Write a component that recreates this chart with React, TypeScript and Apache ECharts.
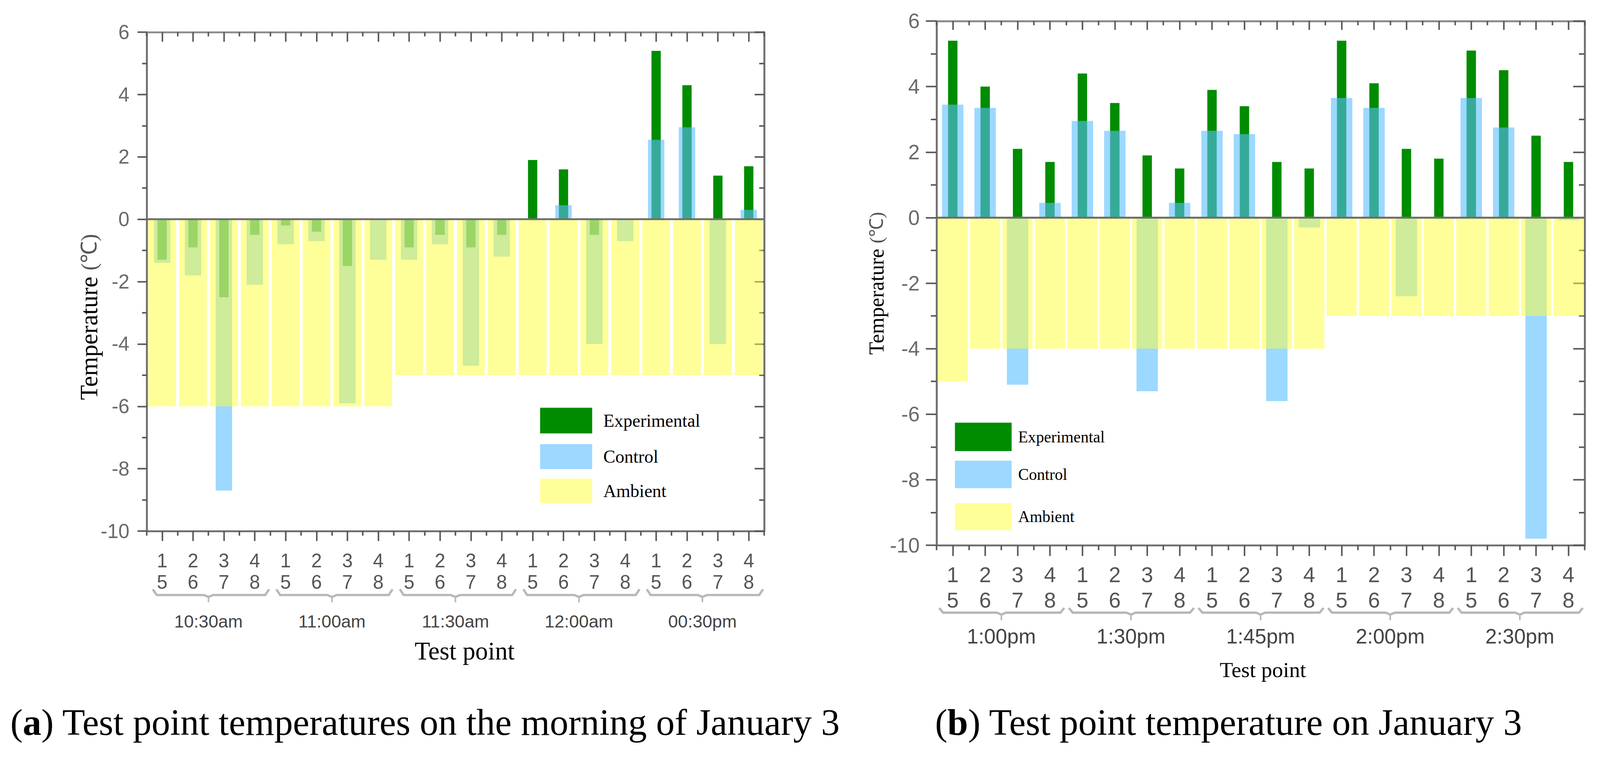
import React, { useEffect, useRef, useState } from 'react';
import * as echarts from 'echarts';

// ---------------- data ----------------
const POINT_LABELS = ['1\n5', '2\n6', '3\n7', '4\n8'];
const TIMES_A = ['10:30am', '11:00am', '11:30am', '12:00am', '00:30pm'];
const TIMES_B = ['1:00pm', '1:30pm', '1:45pm', '2:00pm', '2:30pm'];

const EXPERIMENTAL_A = [-1.3, -0.9, -2.5, -0.5, -0.2, -0.4, -1.5, 0, -0.9, -0.5, -0.9, -0.5, 1.9, 1.6, -0.5, 0, 5.4, 4.3, 1.4, 1.7];
const CONTROL_A = [-1.4, -1.8, -8.7, -2.1, -0.8, -0.7, -5.9, -1.3, -1.3, -0.8, -4.7, -1.2, 0, 0.45, -4.0, -0.7, 2.55, 2.95, -4.0, 0.3];
const AMBIENT_A = [-6, -6, -6, -6, -6, -6, -6, -6, -5, -5, -5, -5, -5, -5, -5, -5, -5, -5, -5, -5];

const EXPERIMENTAL_B = [5.4, 4.0, 2.1, 1.7, 4.4, 3.5, 1.9, 1.5, 3.9, 3.4, 1.7, 1.5, 5.4, 4.1, 2.1, 1.8, 5.1, 4.5, 2.5, 1.7];
const CONTROL_B = [3.45, 3.35, -5.1, 0.45, 2.95, 2.65, -5.3, 0.45, 2.65, 2.55, -5.6, -0.3, 3.65, 3.35, -2.4, 0, 3.65, 2.75, -9.8, -0.08];
const AMBIENT_B = [-5, -4, -4, -4, -4, -4, -4, -4, -4, -4, -4, -4, -3, -3, -3, -3, -3, -3, -3, -3];

const Y_MIN = -10;
const Y_MAX = 6;
const Y_STEP = 2;

const SERIES_NAMES = ['Experimental', 'Control', 'Ambient'];
const Y_TITLE = 'Temperature ';
const Y_UNIT = '(℃)';
const X_TITLE = 'Test point';
const CAPTION_A = ['a', ' Test point temperatures on the morning of January 3'];
const CAPTION_B = ['b', ' Test point temperature on January 3'];

// ---------------- styles / layout ----------------
const PAGE_W = 4177;
const PAGE_H = 1972;
const SANS = "'Liberation Sans Narrow', 'Arial Narrow', 'Liberation Sans', Arial, sans-serif";
const SERIF = "'Liberation Serif', 'Times New Roman', serif";
const COLORS = {
  exp: '#008c00',
  ctrl: 'rgba(90,190,255,0.6)',
  amb: 'rgba(255,255,51,0.5)',
  axis: '#6e6e6e',
  tick: '#585858',
  bracket: '#b8b8b8',
};

const LAYOUT_A = {
  grid: { left: 383, top: 84, width: 1612, height: 1303 },
  axisW: 5,
  longTick: 26, shortTick: 12, topLong: 25, topShort: 11,
  yTick: 24, yMinor: 12, rTick: 25, rMinor: 13,
  catMargin: 49, catFont: 50, catLH: 56,
  timeMargin: 213, timeFont: 46,
  yMargin: 45, yFont: 52,
  expW: '30%', ctrlW: '53%', ambW: '90%',
  brY: 167, brHook: 15, brNotch: 19, brIn0: 16, brIn1: 3, brW: 6,
  legendX: 1410, legendTops: [1065, 1160, 1250], legendHs: [67, 65, 64], legendW: 136,
  legendFont: 47, legendPad: [18, 0, 0, 24],
  yTitle: { x: 232, y: 828, size: 64 },
  xTitle: { x: 1213, y: 1700, size: 66 },
  caption: { x: 27, y: 1887, size: 97 },
};

const LAYOUT_B = {
  grid: { left: 2445, top: 55, width: 1692, height: 1369 },
  axisW: 5,
  longTick: 28, shortTick: 13, topLong: 23, topShort: 11,
  yTick: 28, yMinor: 15, rTick: 30, rMinor: 15,
  catMargin: 44, catFont: 56, catLH: 66,
  timeMargin: 211, timeFont: 54,
  yMargin: 44, yFont: 54,
  expW: '29%', ctrlW: '66%', ambW: '93%',
  brY: 176, brHook: 12, brNotch: 20, brIn0: 7, brIn1: 5, brW: 6,
  legendX: 2493, legendTops: [1104, 1203, 1314], legendHs: [74, 72, 71], legendW: 148,
  legendFont: 42, legendPad: [28, 0, 0, 12],
  yTitle: { x: 2288, y: 740, size: 55 },
  xTitle: { x: 3297, y: 1749, size: 57 },
  caption: { x: 2441, y: 1887, size: 97 },
};

function buildPanel(k: number, L: any, times: string[], exp: number[], ctrl: number[], amb: number[]) {
  const n = POINT_LABELS.length;
  const categories = times.flatMap(() => POINT_LABELS);
  const groups = times.map((_, g) => [g * n, g * n + n - 1]);
  const xo = k * 5;
  const yo = k * 2;
  const lineStyle = { color: COLORS.axis, width: L.axisW };
  const tickStyle = { color: COLORS.tick, width: 4 };

  const xAxis = [
    {
      gridIndex: k, type: 'category', data: categories, position: 'bottom',
      axisLine: { show: true, onZero: false, lineStyle },
      axisTick: { show: true, interval: 0, alignWithLabel: true, length: L.longTick, lineStyle: tickStyle },
      axisLabel: { show: true, interval: 0, margin: L.catMargin, fontSize: L.catFont, lineHeight: L.catLH, color: '#555', fontFamily: SANS },
      splitLine: { show: false },
    },
    {
      gridIndex: k, type: 'category', data: categories, position: 'bottom',
      axisLine: { show: false, onZero: false },
      axisTick: { show: true, interval: 0, alignWithLabel: false, length: L.shortTick, lineStyle: tickStyle },
      axisLabel: { show: false }, splitLine: { show: false },
    },
    {
      gridIndex: k, type: 'category', data: categories, position: 'top',
      axisLine: { show: true, onZero: false, lineStyle: { color: '#8a8a8a', width: L.axisW } },
      axisTick: { show: true, inside: true, interval: 0, alignWithLabel: true, length: L.topLong, lineStyle: tickStyle },
      axisLabel: { show: false }, splitLine: { show: false },
    },
    {
      gridIndex: k, type: 'category', data: categories, position: 'top',
      axisLine: { show: false, onZero: false },
      axisTick: { show: true, inside: true, interval: 0, alignWithLabel: false, length: L.topShort, lineStyle: tickStyle },
      axisLabel: { show: false }, splitLine: { show: false },
    },
    {
      gridIndex: k, type: 'category', data: times, position: 'bottom',
      axisLine: { show: false, onZero: false }, axisTick: { show: false },
      axisLabel: { show: true, interval: 0, margin: L.timeMargin, fontSize: L.timeFont, lineHeight: L.timeFont, color: '#444', fontFamily: SANS },
      splitLine: { show: false },
    },
  ];

  const yAxis = [
    {
      gridIndex: k, type: 'value', min: Y_MIN, max: Y_MAX, interval: Y_STEP, position: 'left',
      axisLine: { show: true, lineStyle },
      axisTick: { show: true, length: L.yTick, lineStyle: tickStyle },
      minorTick: { show: true, splitNumber: 2, length: L.yMinor, lineStyle: tickStyle },
      axisLabel: { show: true, margin: L.yMargin, fontSize: L.yFont, color: '#6a6a6a', fontFamily: SANS },
      splitLine: { show: false }, minorSplitLine: { show: false },
    },
    {
      gridIndex: k, type: 'value', min: Y_MIN, max: Y_MAX, interval: Y_STEP, position: 'right',
      axisLine: { show: true, lineStyle },
      axisTick: { show: true, inside: true, length: L.rTick, lineStyle: tickStyle },
      minorTick: { show: true, splitNumber: 2, length: L.rMinor, lineStyle: tickStyle },
      axisLabel: { show: false },
      splitLine: { show: false }, minorSplitLine: { show: false },
    },
  ];

  const series = [
    {
      type: 'bar', name: SERIES_NAMES[0], xAxisIndex: xo, yAxisIndex: yo, data: exp,
      barWidth: L.expW, itemStyle: { color: COLORS.exp }, z: 2, silent: true,
      markLine: {
        silent: true, symbol: ['none', 'none'], label: { show: false },
        lineStyle: { color: COLORS.axis, width: L.axisW, type: 'solid' },
        emphasis: { disabled: true },
        data: [{ yAxis: 0 }],
      },
    },
    {
      type: 'bar', name: SERIES_NAMES[1], xAxisIndex: xo + 1, yAxisIndex: yo, data: ctrl,
      barWidth: L.ctrlW, itemStyle: { color: COLORS.ctrl }, z: 3, silent: true,
    },
    {
      type: 'bar', name: SERIES_NAMES[2], xAxisIndex: xo + 2, yAxisIndex: yo, data: amb,
      barWidth: L.ambW, itemStyle: { color: COLORS.amb }, z: 4, silent: true,
    },
    {
      type: 'custom', name: 'groups', xAxisIndex: xo, yAxisIndex: yo, data: groups,
      clip: false, silent: true, z: 5,
      renderItem: (_params: any, api: any) => {
        const a = api.coord([api.value(0), Y_MIN]);
        const b = api.coord([api.value(1), Y_MIN]);
        const bw = api.size([1, 0])[0];
        const gs = a[0] - bw / 2;
        const ge = b[0] + bw / 2;
        const x0 = gs + L.brIn0;
        const x1 = ge - L.brIn1;
        const xm = (gs + ge) / 2;
        const y = a[1] + L.brY;
        const style = { stroke: COLORS.bracket, lineWidth: L.brW, fill: null };
        return {
          type: 'group',
          children: [
            {
              type: 'polyline',
              shape: { points: [[x0, y - L.brHook], [x0 + 10, y], [xm - 12, y], [xm, y + 5], [xm + 12, y], [x1 - 10, y], [x1, y - L.brHook]] },
              style,
            },
            { type: 'line', shape: { x1: xm, y1: y + 4, x2: xm, y2: y + L.brNotch }, style: { stroke: COLORS.bracket, lineWidth: 4 } },
          ],
        };
      },
    },
  ];

  const legend = SERIES_NAMES.map((name, i) => ({
    left: L.legendX, top: L.legendTops[i], orient: 'vertical',
    itemWidth: L.legendW, itemHeight: L.legendHs[i], itemGap: 0, padding: 0,
    icon: 'rect', selectedMode: false, data: [name],
    textStyle: { fontFamily: SERIF, fontSize: L.legendFont, color: '#000', padding: L.legendPad },
  }));

  return { grid: { ...L.grid, containLabel: false, outerBoundsMode: 'none' }, xAxis, yAxis, series, legend };
}

function captionText(L: any, parts: string[]) {
  return {
    type: 'text', x: L.caption.x, y: L.caption.y, silent: true,
    style: {
      text: '({b|' + parts[0] + '})' + parts[1],
      fontFamily: SERIF, fontSize: L.caption.size, fill: '#000',
      align: 'left', verticalAlign: 'middle',
      rich: { b: { fontFamily: SERIF, fontSize: L.caption.size, fontWeight: 'bold', fill: '#000' } },
    },
  };
}

function titleTexts(L: any) {
  return [
    {
      type: 'text', x: L.yTitle.x, y: L.yTitle.y, rotation: Math.PI / 2, silent: true,
      style: {
        text: Y_TITLE + '{u|' + Y_UNIT + '}',
        fontFamily: SERIF, fontSize: L.yTitle.size, fill: '#000',
        align: 'center', verticalAlign: 'middle',
        rich: { u: { fontFamily: SERIF, fontSize: L.yTitle.size * 0.9, fill: '#555' } },
      },
    },
    {
      type: 'text', x: L.xTitle.x, y: L.xTitle.y, silent: true,
      style: {
        text: X_TITLE, fontFamily: SERIF, fontSize: L.xTitle.size, fill: '#000',
        align: 'center', verticalAlign: 'middle',
      },
    },
  ];
}

export default function App() {
  const ref = useRef<HTMLDivElement>(null);
  const [scale] = useState(() => {
    const s = Math.min(window.innerWidth / PAGE_W, window.innerHeight / PAGE_H);
    return s > 0 && isFinite(s) ? Math.min(s, 1) : 1;
  });

  useEffect(() => {
    document.body.style.margin = '0';
    document.body.style.overflow = 'hidden';
    if (!ref.current) return;
    const chart = echarts.init(ref.current, null, { renderer: 'svg', width: PAGE_W, height: PAGE_H });
    const pa = buildPanel(0, LAYOUT_A, TIMES_A, EXPERIMENTAL_A, CONTROL_A, AMBIENT_A);
    const pb = buildPanel(1, LAYOUT_B, TIMES_B, EXPERIMENTAL_B, CONTROL_B, AMBIENT_B);
    chart.setOption({
      animation: false,
      backgroundColor: '#ffffff',
      textStyle: { fontFamily: SERIF },
      grid: [pa.grid, pb.grid],
      xAxis: [...pa.xAxis, ...pb.xAxis],
      yAxis: [...pa.yAxis, ...pb.yAxis],
      series: [...pa.series, ...pb.series],
      legend: [...pa.legend, ...pb.legend],
      graphic: [
        ...titleTexts(LAYOUT_A),
        ...titleTexts(LAYOUT_B),
        captionText(LAYOUT_A, CAPTION_A),
        captionText(LAYOUT_B, CAPTION_B),
      ],
    });
    return () => chart.dispose();
  }, []);

  return (
    <div style={{ position: 'fixed', left: 0, top: 0, width: '100vw', height: '100vh', overflow: 'hidden', background: '#fff' }}>
      <div
        ref={ref}
        style={{ width: PAGE_W, height: PAGE_H, transform: `scale(${scale})`, transformOrigin: '0 0' }}
      />
    </div>
  );
}
